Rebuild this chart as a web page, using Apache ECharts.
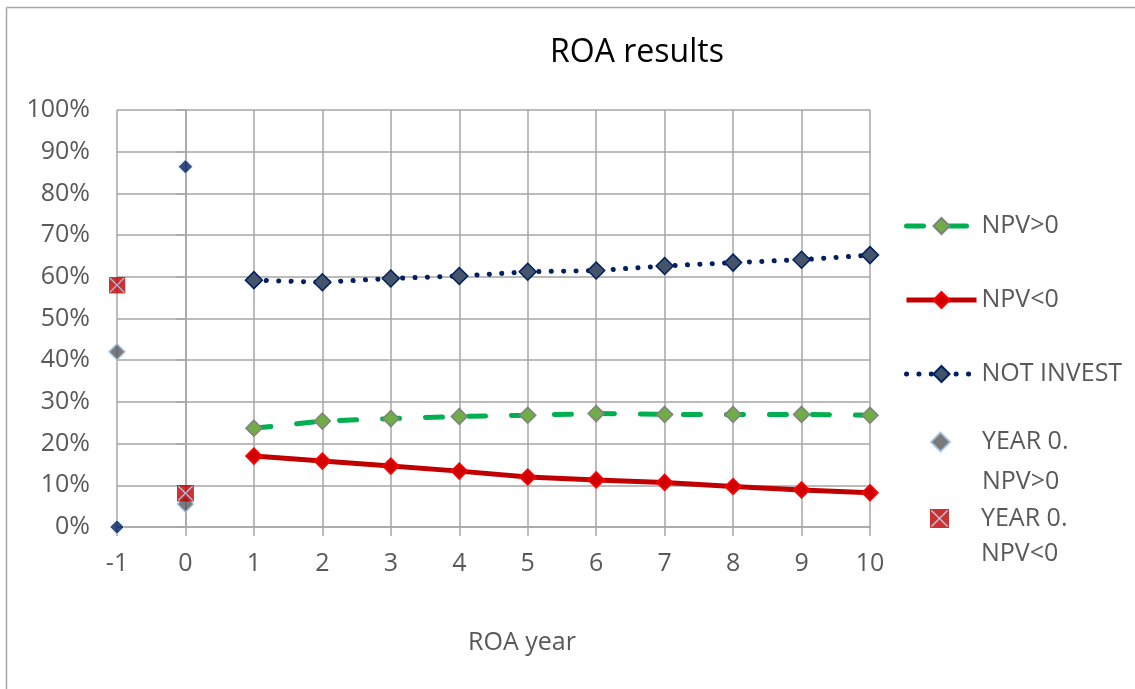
<!DOCTYPE html>
<html>
<head>
<meta charset="utf-8">
<script src="https://cdn.jsdelivr.net/npm/echarts@6/dist/echarts.min.js"></script>
<style>html,body{margin:0;padding:0;background:#fff;}#c{width:1135px;height:689px;}</style>
</head>
<body>
<div id="c"></div>
<script>
const years = [1, 2, 3, 4, 5, 6, 7, 8, 9, 10];
const npvPos = [23.7, 25.4, 26.0, 26.5, 26.8, 27.2, 27.0, 27.0, 27.0, 26.8];
const npvNeg = [17.0, 15.8, 14.6, 13.4, 12.0, 11.3, 10.7, 9.7, 8.9, 8.2];
const notInvest = [59.2, 58.7, 59.6, 60.2, 61.2, 61.5, 62.6, 63.4, 64.1, 65.2];
const year0PosX = [-1, 0];
const year0PosY = [42.0, 5.5];
const year0NegX = [-1, 0];
const year0NegY = [58.0, 8.1];
const extraX = [-1, 0];
const extraY = [0.0, 86.4];
const yTicks = [0, 10, 20, 30, 40, 50, 60, 70, 80, 90, 100];

const FONT = '"Open Sans", "Liberation Sans", sans-serif';
const pair = (xs, ys) => xs.map((x, i) => [x, ys[i]]);

const xSvg = 'data:image/svg+xml;utf8,' + encodeURIComponent(
  '<svg xmlns="http://www.w3.org/2000/svg" width="20" height="20" viewBox="0 0 20 20">' +
  '<rect x="0" y="0" width="20" height="20" fill="#C00000"/>' +
  '<line x1="1.5" y1="1.5" x2="18.5" y2="18.5" stroke="#9DC3E6" stroke-width="1.4"/>' +
  '<line x1="18.5" y1="1.5" x2="1.5" y2="18.5" stroke="#9DC3E6" stroke-width="1.4"/></svg>');

const legText = { color: '#595959', fontSize: 25, fontFamily: FONT };

const chart = echarts.init(document.getElementById('c'));
chart.setOption({
  animation: false,
  backgroundColor: '#fff',
  grid: { left: 117, right: 265, top: 110, bottom: 162, containLabel: false },
  xAxis: {
    type: 'value', min: -1, max: 10, interval: 1,
    axisLine: { show: true, lineStyle: { color: '#a6a6a6', width: 1.5 } },
    axisTick: { show: true, length: 9, lineStyle: { color: '#a6a6a6', width: 1.5 } },
    splitLine: { show: true, lineStyle: { color: '#a6a6a6', width: 1.5 } },
    axisLabel: { color: '#595959', fontSize: 25, fontFamily: FONT, margin: 24 }
  },
  yAxis: {
    type: 'value', min: 0, max: 100, interval: 10,
    axisLine: { show: true, lineStyle: { color: '#a6a6a6', width: 1.5 } },
    axisTick: { show: true, length: 9, lineStyle: { color: '#a6a6a6', width: 1.5 } },
    splitLine: { show: true, lineStyle: { color: '#a6a6a6', width: 1.5 } },
    axisLabel: { color: '#595959', fontSize: 25, fontFamily: FONT, margin: 27,
      formatter: v => yTicks.includes(v) ? v + '%' : '' }
  },
  legend: [
    {
      orient: 'vertical', left: 904, top: 206, padding: 0,
      itemWidth: 70, itemHeight: 20, itemGap: 34,
      lineStyle: { width: 5 },
      textStyle: Object.assign({ lineHeight: 40, padding: [0, 0, 0, 0] }, legText),
      data: ['NPV>0', 'NPV<0', 'NOT INVEST']
    },
    {
      orient: 'vertical', left: 930, top: 382, padding: 0,
      itemWidth: 19, itemHeight: 19,
      formatter: n => ' \n' + n,
      textStyle: Object.assign({ lineHeight: 40, padding: [0, 0, 0, 27] }, legText),
      data: ['YEAR 0.\nNPV>0']
    },
    {
      orient: 'vertical', left: 930, top: 466, padding: 0,
      itemWidth: 19, itemHeight: 19,
      formatter: n => ' \n' + n,
      textStyle: Object.assign({ lineHeight: 35, padding: [0, 0, 0, 27] }, legText),
      data: ['YEAR 0.\nNPV<0']
    }
  ],
  graphic: [
    { type: 'text', x: 637, y: 53, style: { text: 'ROA results', fill: '#000', font: '32px ' + FONT, textAlign: 'center', textVerticalAlign: 'middle' } },
    { type: 'text', x: 522, y: 643, style: { text: 'ROA year', fill: '#595959', font: '25px ' + FONT, textAlign: 'center', textVerticalAlign: 'middle' } },
    { type: 'line', shape: { x1: 6.5, y1: 7.5, x2: 1135, y2: 7.5 }, style: { stroke: '#a6a6a6', lineWidth: 1.5 } },
    { type: 'line', shape: { x1: 6.5, y1: 7.5, x2: 6.5, y2: 689 }, style: { stroke: '#a6a6a6', lineWidth: 1.5 } }
  ],
  series: [
    {
      name: 'NPV>0', type: 'line', data: pair(years, npvPos),
      symbol: 'diamond', symbolSize: 16,
      itemStyle: { color: '#70AD47', borderColor: '#808080', borderWidth: 1.5 },
      lineStyle: { color: '#00B050', width: 5, type: [17, 26], cap: 'round' }
    },
    {
      name: 'NPV<0', type: 'line', data: pair(years, npvNeg),
      symbol: 'diamond', symbolSize: 16,
      itemStyle: { color: '#D00000', borderColor: '#FF0000', borderWidth: 1.5 },
      lineStyle: { color: '#C00000', width: 5 }
    },
    {
      name: 'NOT INVEST', type: 'line', data: pair(years, notInvest),
      symbol: 'diamond', symbolSize: 17,
      itemStyle: { color: '#44546A', borderColor: '#002060', borderWidth: 1.5 },
      lineStyle: { color: '#002060', width: 5, type: [0.1, 12.3], cap: 'round' }
    },
    {
      name: 'YEAR 0.\nNPV>0', type: 'scatter', data: pair(year0PosX, year0PosY),
      symbol: 'diamond', symbolSize: 16,
      itemStyle: { color: '#595959', borderColor: '#9DC3E6', borderWidth: 1.5 }
    },
    {
      name: 'YEAR 0.\nNPV<0', type: 'scatter', data: pair(year0NegX, year0NegY),
      symbol: 'image://' + xSvg, symbolSize: 17
    },
    {
      name: 'extra', type: 'scatter', data: pair(extraX, extraY),
      symbol: 'diamond', symbolSize: 14,
      itemStyle: { color: '#002060', borderColor: '#BDD7EE', borderWidth: 1 }
    }
  ]
});
</script>
</body>
</html>
